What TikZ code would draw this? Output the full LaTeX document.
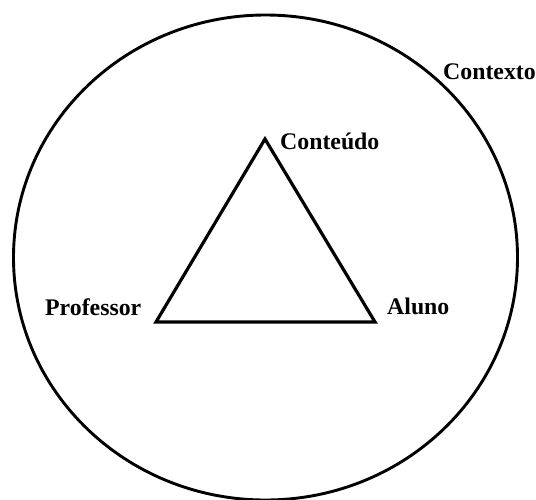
\documentclass[tikz,border=0pt]{standalone}
\usepackage{fontspec}
\setmainfont{Liberation Serif}
\begin{document}
\begin{tikzpicture}[x=1pt,y=-1pt,
  lbl/.style={font=\fontsize{23.8}{26}\selectfont\bfseries, anchor=base west, inner sep=0pt},
  ring/.style={line width=2.9pt},
  tri/.style={line width=3.2pt, line join=miter}]
\useasboundingbox (0,0) rectangle (536,499);
\draw[ring] (265.5,257.5) ellipse [x radius=252, y radius=242.5];
\coordinate (top) at (265,139);
\coordinate (left) at (156,322);
\coordinate (right) at (375,322);
\draw[tri] (top) -- (left) -- (right) -- cycle;
\node[lbl] (contexto) at (443,79) {Contexto};
\node[lbl] (conteudo) at (280,149) {Conteúdo};
\node[lbl] (professor) at (45,315) {Professor};
\node[lbl] (aluno) at (387,314) {Aluno};
\end{tikzpicture}
\end{document}
